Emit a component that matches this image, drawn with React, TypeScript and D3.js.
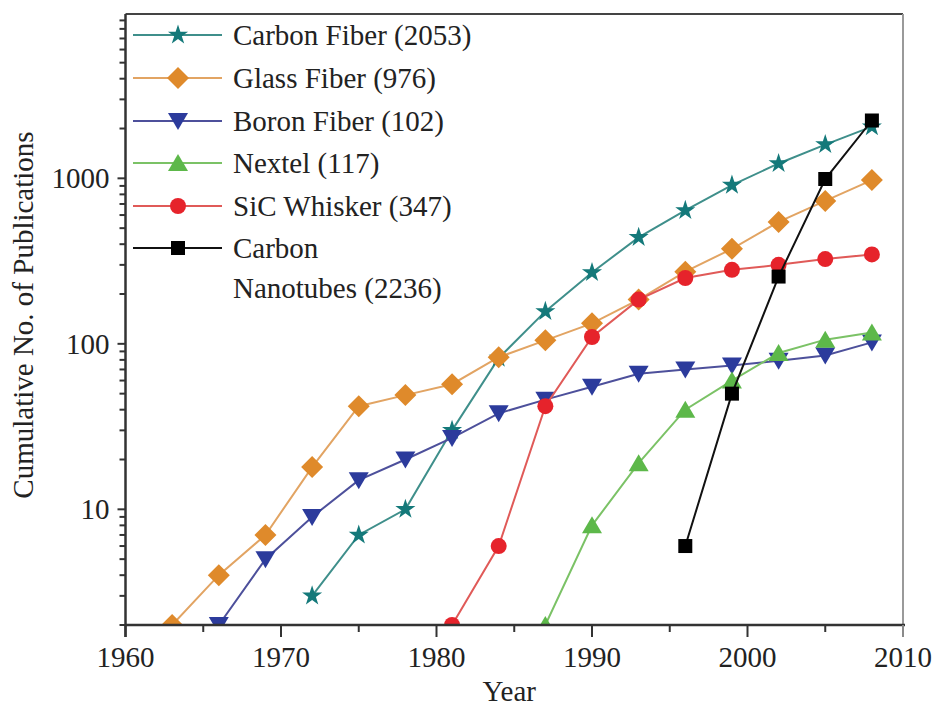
import React from "react";
import * as d3 from "d3";

// Cumulative publication counts per fibre type, sampled every three years
const carbonFiberYears = [1972, 1975, 1978, 1981, 1984, 1987, 1990, 1993, 1996, 1999, 2002, 2005, 2008];
const carbonFiber = [3, 7, 10, 30, 82, 157, 270, 440, 640, 910, 1230, 1600, 2053];

const glassFiberYears = [1963, 1966, 1969, 1972, 1975, 1978, 1981, 1984, 1987, 1990, 1993, 1996, 1999, 2002, 2005, 2008];
const glassFiber = [2, 4, 7, 18, 42, 49, 57, 83, 105, 133, 185, 273, 375, 545, 730, 976];

const boronFiberYears = [1966, 1969, 1972, 1975, 1978, 1981, 1984, 1987, 1990, 1993, 1996, 1999, 2002, 2005, 2008];
const boronFiber = [2, 5, 9, 15, 20, 27, 38, 46, 55, 66, 70, 74, 79, 85, 102];

const nextelYears = [1987, 1990, 1993, 1996, 1999, 2002, 2005, 2008];
const nextel = [2, 8, 19, 40, 60, 88, 106, 117];

const sicWhiskerYears = [1981, 1984, 1987, 1990, 1993, 1996, 1999, 2002, 2005, 2008];
const sicWhisker = [2, 6, 42, 110, 185, 250, 280, 300, 325, 347];

const nanotubeYears = [1996, 1999, 2002, 2005, 2008];
const nanotubes = [6, 50, 255, 990, 2236];

const xTickYears = [1960, 1970, 1980, 1990, 2000, 2010];
const yTickLabels = [10, 100, 1000];

type Shape = "star" | "diamond" | "triDown" | "triUp" | "circle" | "square";

interface Series {
  name: string[];
  years: number[];
  values: number[];
  line: string;
  fill: string;
  shape: Shape;
}

const series: Series[] = [
  { name: ["Carbon Fiber (2053)"], years: carbonFiberYears, values: carbonFiber, line: "#3f8f8b", fill: "#14797a", shape: "star" },
  { name: ["Glass Fiber (976)"], years: glassFiberYears, values: glassFiber, line: "#e2a463", fill: "#df8a2b", shape: "diamond" },
  { name: ["Boron Fiber (102)"], years: boronFiberYears, values: boronFiber, line: "#4d509b", fill: "#2c3b9c", shape: "triDown" },
  { name: ["Nextel (117)"], years: nextelYears, values: nextel, line: "#7bc266", fill: "#5db84a", shape: "triUp" },
  { name: ["SiC Whisker (347)"], years: sicWhiskerYears, values: sicWhisker, line: "#e05a58", fill: "#e6232b", shape: "circle" },
  { name: ["Carbon", "Nanotubes (2236)"], years: nanotubeYears, values: nanotubes, line: "#111111", fill: "#000000", shape: "square" },
];

const W = 936;
const H = 709;
const left = 125.5;
const right = 903;
const top = 14;
const bottom = 625;
const FONT = '"Liberation Serif", "Times New Roman", "DejaVu Serif", "Noto Serif", serif';
const AXIS = "#333333";

const x = d3.scaleLinear().domain([1960, 2010]).range([left, right]);
const y = d3.scaleLog().domain([2, 9840]).range([bottom, top]);

function markerPath(shape: Shape): string {
  switch (shape) {
    case "star":
      return d3.symbol(d3.symbolStar, 125)() as string;
    case "diamond":
      return "M0,-11L11,0L0,11L-11,0Z";
    case "triDown":
      return "M-10,-8L10,-8L0,9Z";
    case "triUp":
      return "M0,-9L10,8L-10,8Z";
    case "circle":
      return d3.symbol(d3.symbolCircle, Math.PI * 8 * 8)() as string;
    case "square":
      return "M-7,-7L7,-7L7,7L-7,7Z";
  }
}

export default function App() {
  const line = d3
    .line<[number, number]>()
    .x((d) => x(d[0]))
    .y((d) => y(d[1]));

  // minor ticks on the log axis: 2..9 of every decade
  const minorY: number[] = [];
  [1, 10, 100, 1000].forEach((dec) => {
    for (let k = 2; k <= 9; k++) {
      const v = k * dec;
      if (v >= 2 && v <= 9840 && !yTickLabels.includes(v)) minorY.push(v);
    }
  });
  const minorX = d3.range(1965, 2010, 10);

  const legendX0 = 133;
  const legendX1 = 222;
  const legendMarkX = 178;
  const legendTextX = 233;
  const legendRows = [35, 78, 121, 163, 206, 248];

  const textStyle = { fontFamily: FONT };

  return (
    <svg
      width={W}
      height={H}
      style={{ position: "absolute", left: 0, top: 0, display: "block", background: "#ffffff", fontFamily: FONT }}
    >
      <defs>
        <clipPath id="plot-clip">
          <rect x={left} y={top} width={right - left} height={bottom - top} />
        </clipPath>
      </defs>

      {/* frame: top and right edges */}
      <line x1={left} x2={right} y1={top} y2={top} stroke="#444" strokeWidth={2} />
      <line x1={right} x2={right} y1={top} y2={bottom} stroke="#9a9a9a" strokeWidth={2} />

      {/* series */}
      <g clipPath="url(#plot-clip)">
        {series.map((s, i) => {
          const pts: [number, number][] = s.years.map((yr, j) => [yr, s.values[j]]);
          const path = markerPath(s.shape);
          return (
            <g key={i}>
              <path d={line(pts) as string} fill="none" stroke={s.line} strokeWidth={2} />
              {pts.map((p, j) => (
                <path key={j} d={path} transform={`translate(${x(p[0])},${y(p[1])})`} fill={s.fill} />
              ))}
            </g>
          );
        })}
      </g>

      {/* y axis */}
      <line x1={left} x2={left} y1={top} y2={bottom + 12} stroke={AXIS} strokeWidth={2.5} />
      {minorY.map((v) => (
        <line key={v} x1={left - 6} x2={left} y1={y(v)} y2={y(v)} stroke={AXIS} strokeWidth={2} />
      ))}
      {yTickLabels.map((v) => (
        <g key={v}>
          <line x1={left - 8} x2={left} y1={y(v)} y2={y(v)} stroke={AXIS} strokeWidth={2} />
          <text x={left - 16} y={y(v)} dy="0.35em" textAnchor="end" fontSize={29} fill="#222" style={textStyle}>
            {v}
          </text>
        </g>
      ))}

      {/* x axis */}
      <line x1={left} x2={right + 2} y1={bottom} y2={bottom} stroke={AXIS} strokeWidth={2.5} />
      {xTickYears.map((yr) => (
        <g key={yr}>
          <line x1={x(yr)} x2={x(yr)} y1={bottom} y2={bottom + 12} stroke={yr === 2010 ? "#8a8a8a" : AXIS} strokeWidth={2} />
          <text x={x(yr)} y={667} textAnchor="middle" fontSize={29} fill="#222" style={textStyle}>
            {yr}
          </text>
        </g>
      ))}
      {minorX.map((yr) => (
        <line key={yr} x1={x(yr)} x2={x(yr)} y1={bottom} y2={bottom + 7} stroke={AXIS} strokeWidth={2} />
      ))}

      {/* axis titles */}
      <text x={(left + right) / 2 - 5} y={701} textAnchor="middle" fontSize={29} fill="#222" style={textStyle}>
        Year
      </text>
      <text
        transform={`translate(33,315) rotate(-90)`}
        textAnchor="middle"
        fontSize={29}
        fill="#222"
        style={textStyle}
      >
        Cumulative No. of Publications
      </text>

      {/* legend */}
      {series.map((s, i) => {
        const cy = legendRows[i];
        return (
          <g key={i}>
            <line x1={legendX0} x2={legendX1} y1={cy} y2={cy} stroke={s.line} strokeWidth={2} />
            <path d={markerPath(s.shape)} transform={`translate(${legendMarkX},${cy})`} fill={s.fill} />
            {s.name.map((t, k) => (
              <text key={k} x={legendTextX} y={cy + k * 40} dy="0.35em" fontSize={29} fill="#222" style={textStyle}>
                {t}
              </text>
            ))}
          </g>
        );
      })}
    </svg>
  );
}
